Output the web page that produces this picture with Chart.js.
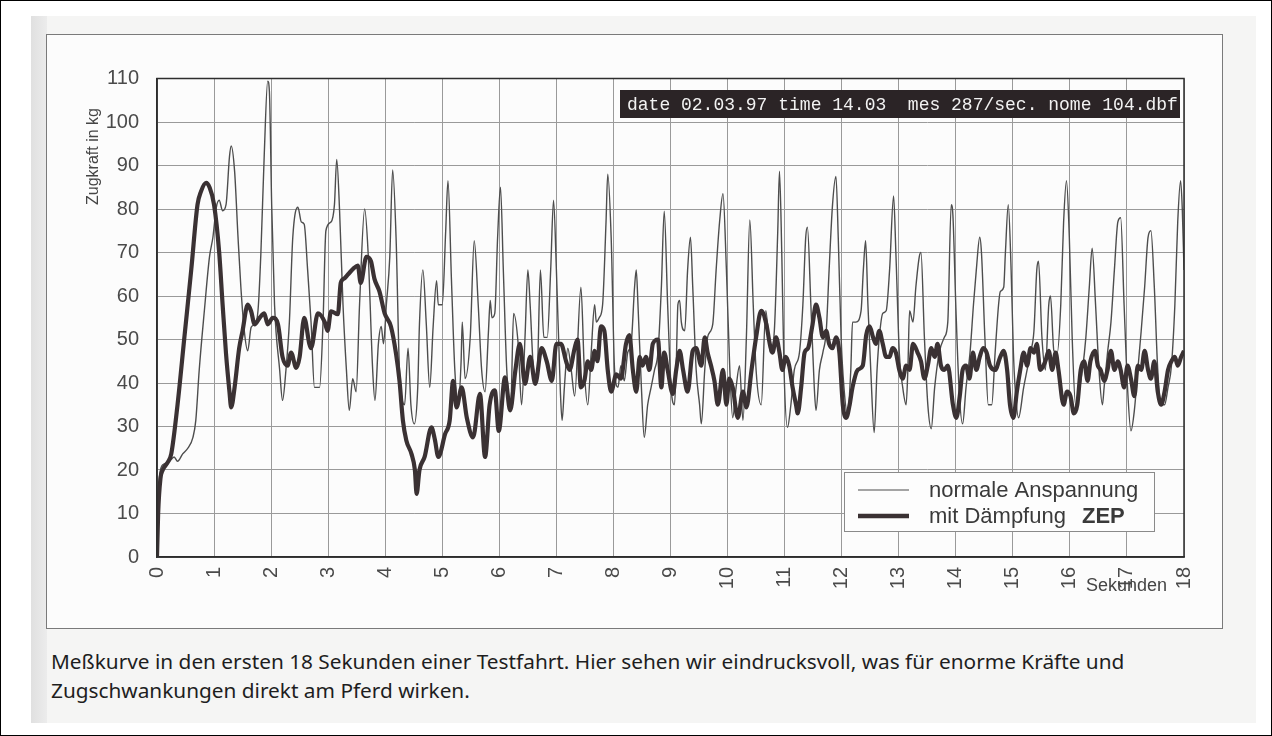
<!DOCTYPE html>
<html lang="de">
<head>
<meta charset="utf-8">
<title>Meßkurve Zugkraft</title>
<script src="https://cdn.jsdelivr.net/npm/chart.js@4.4.1/dist/chart.umd.min.js"></script>
<style>
  html, body { margin: 0; padding: 0; background: #fff; }
  #frame { position: relative; width: 1272px; height: 736px; box-sizing: border-box; border: 1px solid #000; overflow: hidden; }
  #page { position: absolute; left: 30px; top: 15px; width: 1225px; height: 707px; background: #f5f5f4; }
  #strip { position: absolute; left: 30px; top: 15px; width: 16px; height: 707px; background: linear-gradient(to right, #e0e0e0, #ececec); }
  #box { position: absolute; left: 45px; top: 33px; width: 1177px; height: 595px; box-sizing: border-box; border: 1px solid #7a7a7a; background: #fcfcfc; }
  #chart { position: absolute; left: 45px; top: 33px; }
  #caption { position: absolute; left: 50px; top: 646px; font-family: "Liberation Sans Narrow", "Noto Sans", sans-serif; font-size: 20.8px; line-height: 29px; color: #1e1e1e; white-space: nowrap; }
</style>
</head>
<body>
<div id="frame">
  <div id="page"></div>
  <div id="strip"></div>
  <div id="box"></div>
  <canvas id="chart" width="1177" height="595"></canvas>
  <div id="caption">Meßkurve in den ersten 18 Sekunden einer Testfahrt. Hier sehen wir eindrucksvoll, was für enorme Kräfte und<br>Zugschwankungen direkt am Pferd wirken.</div>
</div>
<script>
// ---------- Data (seconds / kg) ----------
const xTickLabels = ["0","1","2","3","4","5","6","7","8","9","10","11","12","13","14","15","16","17","18"];
const yTickLabels = ["0","10","20","30","40","50","60","70","80","90","100","110"];

const normalLabel = "normale Anspannung";
const normalTime = [
  0,0.02,0.06,0.13,0.22,0.3,0.36,0.45,0.54,0.63,0.68,0.74,0.83,0.92,0.98,1.04,1.09,1.15,1.21,1.27,1.3,1.36,1.42,1.47,1.53,1.59,1.65,1.71,1.77,1.82,1.88,1.94,1.97,
  2.01,2.06,2.15,2.2,2.26,2.32,2.38,2.47,2.53,2.58,2.64,2.7,2.76,2.85,2.91,2.96,3.05,3.11,3.15,3.2,3.26,3.32,3.37,3.43,3.49,3.55,3.64,3.7,3.78,3.82,3.88,3.93,3.97,
  4.02,4.08,4.13,4.19,4.25,4.34,4.4,4.45,4.51,4.57,4.6,4.66,4.72,4.78,4.84,4.9,4.93,5.0,5.06,5.1,5.16,5.22,5.28,5.33,5.35,5.4,5.49,5.56,5.63,5.69,5.75,5.81,5.84,5.87,5.92,5.97,
  6.02,6.07,6.13,6.2,6.25,6.33,6.39,6.45,6.5,6.54,6.6,6.66,6.72,6.78,6.84,6.9,6.95,7.0,7.07,7.1,7.14,7.2,7.26,7.32,7.43,7.49,7.55,7.61,7.67,7.7,7.75,7.81,7.87,7.9,7.96,
  8.02,8.08,8.13,8.19,8.25,8.31,8.37,8.4,8.43,8.49,8.54,8.6,8.66,8.72,8.78,8.84,8.89,8.95,9.01,9.07,9.1,9.13,9.16,9.19,9.25,9.3,9.35,9.39,9.45,9.51,9.54,9.6,9.65,9.74,9.8,9.86,9.92,9.98,
  10.04,10.09,10.15,10.21,10.27,10.33,10.39,10.45,10.5,10.59,10.67,10.75,10.82,10.88,10.91,10.95,10.99,11.05,11.11,11.17,11.26,11.32,11.37,11.4,11.46,11.52,11.55,11.61,11.67,11.73,11.78,11.84,11.9,11.94,11.99,
  12.04,12.1,12.16,12.19,12.25,12.34,12.38,12.42,12.46,12.51,12.57,12.62,12.66,12.72,12.78,12.84,12.91,12.95,13.01,13.07,13.13,13.16,13.19,13.25,13.3,13.36,13.39,13.45,13.51,13.57,13.63,13.71,13.8,13.86,13.92,13.95,
  14.0,14.06,14.12,14.18,14.25,14.31,14.36,14.42,14.45,14.51,14.57,14.63,14.69,14.75,14.78,14.84,14.87,14.92,14.97,15.01,15.04,15.1,15.19,15.25,15.31,15.37,15.42,15.45,15.51,15.57,15.63,15.66,15.72,15.78,15.84,15.89,15.94,15.99,
  16.04,16.1,16.16,16.22,16.28,16.34,16.39,16.45,16.51,16.57,16.6,16.66,16.72,16.78,16.84,16.89,16.95,17.01,17.07,17.13,17.19,17.25,17.31,17.37,17.42,17.48,17.54,17.6,17.66,17.72,17.78,17.84,17.89,17.94,17.97,18.0
];
const normalForce = [
  0,12,20,21.4,22,23,22,23.7,25,27.5,31.4,43,56.6,69,73.5,80.4,82,79.6,81,92,94.5,88.7,73.5,62,52,47.4,52.8,53.5,56.6,69.6,92.6,109.4,107,
  81,58,43,36,43,54,73.5,80.4,77,76.5,66,54,39,39,54,75,77,81,91.4,79.6,58,43,33.7,41,38,58,80,70,43,36,49,53,49,
  58,69,89,73.5,43,35,48,35,30.6,39,53.5,66,53.5,39,53,63.5,58,58,75,86.5,64,43,35,45,54,41,50.5,72.7,58,43,38,52,59,55,56,73.5,
  85,66,43,35,56,49,35,50.5,66,58,43,41,66,50.5,50.5,66,82,66,38,31.4,39,48,43,37,62,43,35,47,58,54,55,58,77,88,73.5,
  43,39,44,40.5,47,49,62,66,58,39,27.5,35,39,43,47,62,79.5,58,39,35,44,58,59,54,52,66,73.5,62,43,35,30.6,43,50.5,53.5,66,77,83.5,66,
  43,32,39,44,31.4,50.5,77.5,58,43,35,56.6,47,52,75,88.7,70,43,29.8,35,43,47,58,73.5,75.8,58,39,33.7,43,47,52,66,81,87.5,73.5,50.5,
  39,33,43,54,54,56.6,66,72.7,58,43,28.6,43,50.5,56,56.6,66,83,70,47,39,35,43,56.6,54,62,69,70,50.5,35,29.5,39,47,50.5,54,81,78.5,
  58,38,30.6,39,47,58,66,73.5,70,50.5,35,35,47,58,61,62,70,81,66,47,39,32,39,43,47,52,66,68,50.5,43,58,60,47.4,47,58,77,86.5,73.5,
  50.5,35,38,43,50.5,62,71,58,43,35,39,47,54,66,77,78,58,39,29,33.7,43,52,62,73.5,75,62,43,35,35,39,44,58,77,86.5,80,66
];

const zepLabel = "mit Dämpfung";
const zepTag = "ZEP";
const zepTime = [
  0,0.02,0.06,0.1,0.19,0.25,0.36,0.48,0.6,0.71,0.77,0.86,0.92,1.0,1.09,1.15,1.21,1.27,1.3,1.36,1.44,1.5,1.59,1.65,1.71,1.8,1.88,1.94,
  2.03,2.12,2.2,2.29,2.35,2.44,2.5,2.58,2.67,2.7,2.82,2.94,2.99,3.05,3.17,3.22,3.28,3.35,3.45,3.52,3.57,3.67,3.75,3.81,3.9,3.99,
  4.1,4.19,4.25,4.31,4.37,4.46,4.52,4.55,4.6,4.69,4.81,4.87,4.93,5.05,5.13,5.19,5.25,5.34,5.43,5.54,5.66,5.75,5.83,5.92,5.99,
  6.1,6.19,6.28,6.36,6.45,6.54,6.63,6.74,6.83,6.92,7.0,7.08,7.17,7.23,7.32,7.37,7.43,7.49,7.55,7.61,7.67,7.72,7.78,7.84,7.9,7.96,
  8.05,8.13,8.22,8.28,8.34,8.4,8.46,8.51,8.57,8.63,8.69,8.78,8.84,8.89,8.95,9.04,9.1,9.16,9.22,9.3,9.39,9.45,9.54,9.6,9.65,9.71,9.77,9.83,9.92,9.98,
  10.03,10.09,10.18,10.27,10.33,10.42,10.5,10.59,10.68,10.74,10.79,10.85,10.91,10.96,11.02,11.08,11.14,11.2,11.23,11.29,11.35,11.41,11.49,11.55,11.61,11.67,11.73,11.78,11.84,11.9,11.96,
  12.02,12.08,12.14,12.19,12.28,12.37,12.43,12.49,12.55,12.6,12.66,12.72,12.78,12.84,12.89,12.95,13.01,13.07,13.13,13.19,13.25,13.33,13.39,13.45,13.51,13.57,13.63,13.68,13.74,13.8,13.86,13.95,
  14.01,14.07,14.12,14.18,14.24,14.3,14.36,14.42,14.48,14.54,14.6,14.69,14.78,14.84,14.9,14.95,15.01,15.07,15.13,15.19,15.25,15.31,15.37,15.42,15.48,15.57,15.63,15.69,15.75,15.8,15.89,15.95,
  16.01,16.07,16.13,16.19,16.25,16.31,16.36,16.44,16.49,16.54,16.6,16.66,16.72,16.78,16.84,16.89,16.95,17.01,17.07,17.13,17.19,17.25,17.31,17.37,17.42,17.48,17.54,17.6,17.66,17.72,17.78,17.84,17.89,17.95,18.0
];
const zepForce = [
  0,10,18,20,21.8,23.7,35,50.5,66,81,84,86,85,81,70,58,46.7,38,34.4,39,48,52,58,56.5,53.5,55,56,53.5,
  55,53.5,46,44,47,43.5,46,55,49,48,56,54,52,56.5,55.8,63,64,65,66.4,67,63,69,68,64,61,56,
  53,46.7,40.5,31.4,26.8,23.7,20,14.5,20,23,29.8,27,23,28.3,31.4,40.5,34.4,39,32,27.5,37.5,23,35,38.3,29,
  41.3,33.7,42.8,49,39.8,46,39.8,48,45,40.5,49,49,45,43,48,50,39,40.5,45,43,47.4,45,53,52,43,38,
  42,41,49,51,43,38,46,44,46,43,49,50,39,47,43,37.5,43,47.4,43,38,47.4,48,44,50.5,47,44,40.5,35,43,35,
  41,39,32,38,34.4,43,50.5,56.6,53.5,49,47,50.5,47,43,46,44,39,35,33,39,47,48,53.5,58,55,50.5,52,49,48,50.5,47,
  35,32,35,39,43,44,51,53,50.5,49,52,49,46,46,48,47,43,41,44,43,49,47,45,41,44,48,46,49,44,43,44,35,
  32,37,43,44,41,47,43,46,48,47,44,43,46,47.4,43,35,32,38,43,47,44,48,47,49,43,45,47.4,43,47,43,35,38,
  37,33,35,43,45,40.5,45,47.4,44,43,40.5,43,47.4,43,45,43,39,44,41,37,44,43,47.4,43,41,45,38,35,38,43,45,46,44,46,47.4
];

const infoText = "date 02.03.97 time 14.03  mes 287/sec. nome 104.dbf";
const yTitle = "Zugkraft in kg";
const xTitle = "Sekunden";

// ---------- Helpers ----------
function toPoints(xs, ys) {
  return xs.map((x, i) => ({ x: x, y: ys[i] }));
}

// frame, info box, legend and axis titles drawn on top of the data
const extras = {
  id: "extras",
  afterDatasetsDraw(chart) {
    const { ctx, chartArea: a } = chart;
    ctx.save();

    // plot frame
    ctx.strokeStyle = "#2e2e2e";
    ctx.lineWidth = 1.5;
    ctx.strokeRect(a.left, a.top, a.right - a.left, a.bottom - a.top);

    // info box (top right)
    const bx = a.right - 564, by = a.top + 11.5;
    ctx.fillStyle = "#2b2426";
    ctx.fillRect(bx, by, 560, 28);
    ctx.fillStyle = "#f2f2f2";
    ctx.font = '18px "Liberation Mono", "DejaVu Sans Mono", monospace';
    ctx.textBaseline = "middle";
    ctx.textAlign = "left";
    ctx.fillText(infoText, bx + 7, by + 15);

    // legend box (bottom right)
    const lx = a.right - 340, ly = a.bottom - 85;
    ctx.fillStyle = "#fdfdfd";
    ctx.fillRect(lx, ly, 310, 59);
    ctx.strokeStyle = "#8a8a8a";
    ctx.lineWidth = 1;
    ctx.strokeRect(lx + 0.5, ly + 0.5, 310, 59);

    const ds = chart.data.datasets;
    ctx.lineCap = "butt";
    ctx.strokeStyle = ds[1].borderColor;
    ctx.lineWidth = 1.2;
    ctx.beginPath(); ctx.moveTo(lx + 14, ly + 18); ctx.lineTo(lx + 65, ly + 18); ctx.stroke();
    ctx.strokeStyle = ds[0].borderColor;
    ctx.lineWidth = 4.5;
    ctx.beginPath(); ctx.moveTo(lx + 14, ly + 44); ctx.lineTo(lx + 65, ly + 44); ctx.stroke();

    ctx.fillStyle = "#3a3a3a";
    ctx.font = '22px "Liberation Sans", Arial, sans-serif';
    ctx.fillText(ds[1].label, lx + 85, ly + 19);
    ctx.fillText(ds[0].label, lx + 85, ly + 45);
    const w = ctx.measureText(ds[0].label).width;
    ctx.font = 'bold 22px "Liberation Sans", Arial, sans-serif';
    ctx.fillText(zepTag, lx + 85 + w + 16, ly + 45);

    // y title
    ctx.fillStyle = "#454545";
    ctx.font = '16px "Liberation Sans", Arial, sans-serif';
    ctx.translate(a.left - 63, a.top + 78);
    ctx.rotate(-Math.PI / 2);
    ctx.textAlign = "center";
    ctx.fillText(yTitle, 0, 0);
    ctx.setTransform(1, 0, 0, 1, 0, 0);

    // x title
    ctx.textAlign = "left";
    ctx.font = '18px "Liberation Sans", Arial, sans-serif';
    ctx.fillText(xTitle, a.right - 98, a.bottom + 29);

    ctx.restore();
  }
};

// ---------- Chart ----------
const ctx = document.getElementById("chart");

new Chart(ctx, {
  type: "line",
  data: {
    datasets: [
      {
        label: zepLabel,
        data: toPoints(zepTime, zepForce),
        borderColor: "#3a3133",
        borderWidth: 4.2,
        pointRadius: 0,
        cubicInterpolationMode: "monotone",
        order: 0
      },
      {
        label: normalLabel,
        data: toPoints(normalTime, normalForce),
        borderColor: "#4d4d4d",
        borderWidth: 1.4,
        pointRadius: 0,
        cubicInterpolationMode: "monotone",
        order: 1
      }
    ]
  },
  options: {
    responsive: false,
    animation: false,
    layout: { padding: { top: 44.5, right: 39, left: 0, bottom: 0 } },
    plugins: {
      legend: { display: false },
      tooltip: { enabled: false }
    },
    scales: {
      x: {
        type: "linear",
        min: 0,
        max: 18,
        afterFit: (scale) => { scale.height = 72; },
        grid: { color: "#9a9a9a", lineWidth: 1, drawTicks: false },
        border: { color: "#2e2e2e", width: 1.5 },
        ticks: {
          stepSize: 1,
          autoSkip: false,
          minRotation: 90,
          maxRotation: 90,
          padding: 10,
          color: "#4a4a4a",
          font: { family: "'Liberation Sans', Arial, sans-serif", size: 20 },
          callback: (v) => xTickLabels[v]
        }
      },
      y: {
        min: 0,
        max: 110,
        afterFit: (scale) => { scale.width = 111; },
        grid: { color: "#9a9a9a", lineWidth: 1, drawTicks: false },
        border: { color: "#2e2e2e", width: 1.5 },
        ticks: {
          stepSize: 10,
          padding: 18,
          color: "#4a4a4a",
          font: { family: "'Liberation Sans', Arial, sans-serif", size: 20 },
          callback: (v) => yTickLabels[v / 10]
        }
      }
    }
  },
  plugins: [extras]
});
</script>
</body>
</html>
